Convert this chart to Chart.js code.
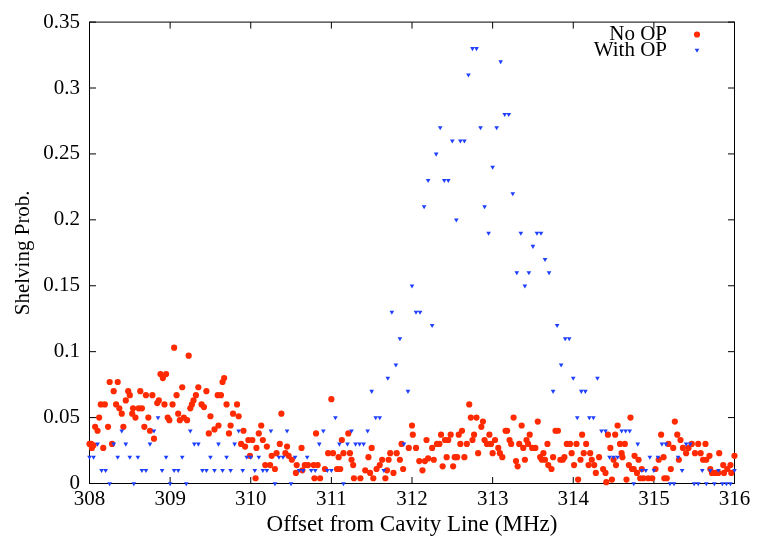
<!DOCTYPE html>
<html>
<head>
<meta charset="utf-8">
<title>Shelving probability vs offset</title>
<script src="https://cdn.jsdelivr.net/npm/chart.js@4.4.1/dist/chart.umd.min.js"></script>
<style>
  html, body { margin: 0; padding: 0; background: #fff; }
  #wrap { width: 757px; height: 539px; }
</style>
</head>
<body>
<div id="wrap"><canvas id="shelvingChart" width="757" height="539"></canvas></div>
<script>
// Shelving probability scan, with and without optical pumping

// No OP: offset (MHz) and shelving probability
const noOpFreq = [
    308.00, 308.02, 308.03, 308.05, 308.07, 308.10, 308.12, 308.14, 308.17, 308.19,
    308.23, 308.25, 308.28, 308.30, 308.33, 308.35, 308.37, 308.40, 308.42, 308.45,
    308.48, 308.50, 308.53, 308.54, 308.57, 308.61, 308.63, 308.65, 308.68, 308.70,
    308.73, 308.75, 308.78, 308.80, 308.84, 308.86, 308.88, 308.91, 308.93, 308.95,
    308.97, 308.99, 309.03, 309.05, 309.08, 309.10, 309.12, 309.15, 309.17, 309.21,
    309.23, 309.25, 309.27, 309.29, 309.32, 309.35, 309.39, 309.42, 309.45, 309.48,
    309.50, 309.55, 309.59, 309.60, 309.63, 309.65, 309.67, 309.70, 309.73, 309.75,
    309.78, 309.83, 309.85, 309.88, 309.91, 309.93, 309.97, 309.99, 310.02, 310.06,
    310.07, 310.10, 310.13, 310.15, 310.18, 310.20, 310.24, 310.26, 310.30, 310.32,
    310.36, 310.38, 310.43, 310.45, 310.47, 310.51, 310.56, 310.57, 310.63, 310.64,
    310.67, 310.71, 310.78, 310.79, 310.81, 310.83, 310.86, 310.92, 310.96, 311.00,
    311.02, 311.07, 311.09, 311.11, 311.13, 311.15, 311.21, 311.23, 311.25, 311.27,
    311.28, 311.36, 311.42, 311.46, 311.48, 311.50, 311.52, 311.56, 311.60, 311.63,
    311.67, 311.69, 311.71, 311.73, 311.77, 311.81, 311.85, 311.87, 311.89, 311.96,
    312.00, 312.01, 312.05, 312.09, 312.13, 312.16, 312.18, 312.20, 312.25, 312.27,
    312.31, 312.34, 312.36, 312.38, 312.41, 312.43, 312.45, 312.48, 312.51, 312.53,
    312.56, 312.58, 312.60, 312.62, 312.65, 312.68, 312.71, 312.73, 312.75, 312.77,
    312.80, 312.82, 312.86, 312.88, 312.90, 312.93, 312.96, 312.98, 313.00, 313.03,
    313.07, 313.09, 313.12, 313.16, 313.18, 313.21, 313.23, 313.26, 313.29, 313.31,
    313.33, 313.36, 313.38, 313.40, 313.42, 313.44, 313.46, 313.49, 313.53, 313.56,
    313.59, 313.61, 313.63, 313.65, 313.68, 313.69, 313.73, 313.75, 313.78, 313.81,
    313.84, 313.87, 313.89, 313.92, 313.96, 313.98, 314.01, 314.04, 314.06, 314.09,
    314.11, 314.13, 314.16, 314.19, 314.21, 314.23, 314.26, 314.28, 314.32, 314.37,
    314.40, 314.41, 314.43, 314.46, 314.48, 314.50, 314.52, 314.53, 314.55, 314.58,
    314.60, 314.61, 314.64, 314.66, 314.69, 314.71, 314.73, 314.75, 314.76, 314.79,
    314.81, 314.83, 314.85, 314.87, 314.93, 314.98, 315.02, 315.06, 315.09, 315.12,
    315.13, 315.16, 315.18, 315.21, 315.24, 315.26, 315.29, 315.31, 315.33, 315.36,
    315.40, 315.43, 315.47, 315.51, 315.55, 315.58, 315.61, 315.64, 315.65, 315.69,
    315.70, 315.72, 315.76, 315.80, 315.81, 315.86, 315.87, 315.91, 315.95, 315.96,
    316.00
];
const noOpProb = [
    0.030, 0.030, 0.027, 0.029, 0.043, 0.040, 0.050, 0.060, 0.027, 0.060,
    0.043, 0.077, 0.030, 0.070, 0.060, 0.077, 0.057, 0.053, 0.043, 0.063,
    0.070, 0.067, 0.053, 0.057, 0.050, 0.057, 0.070, 0.057, 0.043, 0.067,
    0.050, 0.040, 0.067, 0.034, 0.061, 0.063, 0.083, 0.080, 0.060, 0.083,
    0.050, 0.048, 0.060, 0.103, 0.067, 0.053, 0.048, 0.073, 0.050, 0.048,
    0.097, 0.057, 0.060, 0.063, 0.067, 0.073, 0.060, 0.058, 0.070, 0.038,
    0.051, 0.041, 0.067, 0.044, 0.067, 0.077, 0.080, 0.060, 0.038, 0.044,
    0.053, 0.060, 0.051, 0.030, 0.040, 0.028, 0.033, 0.021, 0.033, 0.004,
    0.027, 0.038, 0.044, 0.033, 0.014, 0.028, 0.014, 0.021, 0.011, 0.023,
    0.030, 0.053, 0.023, 0.028, 0.021, 0.018, 0.008, 0.014, 0.027, 0.010,
    0.014, 0.014, 0.014, 0.004, 0.038, 0.014, 0.004, 0.011, 0.023, 0.064,
    0.023, 0.011, 0.020, 0.011, 0.033, 0.023, 0.038, 0.023, 0.018, 0.014,
    0.004, 0.004, 0.010, 0.020, 0.008, 0.027, 0.004, 0.011, 0.014, 0.018,
    0.004, 0.010, 0.018, 0.023, 0.008, 0.023, 0.018, 0.030, 0.011, 0.027,
    0.044, 0.037, 0.027, 0.017, 0.010, 0.017, 0.033, 0.019, 0.027, 0.018,
    0.030, 0.030, 0.037, 0.013, 0.033, 0.020, 0.033, 0.037, 0.013, 0.020,
    0.020, 0.037, 0.030, 0.040, 0.020, 0.030, 0.060, 0.050, 0.033, 0.037,
    0.050, 0.023, 0.043, 0.047, 0.033, 0.030, 0.037, 0.030, 0.023, 0.033,
    0.027, 0.023, 0.020, 0.040, 0.040, 0.033, 0.030, 0.050, 0.017, 0.013,
    0.030, 0.044, 0.027, 0.018, 0.033, 0.030, 0.037, 0.027, 0.027, 0.047,
    0.020, 0.018, 0.023, 0.018, 0.030, 0.014, 0.011, 0.020, 0.040, 0.040,
    0.018, 0.018, 0.020, 0.030, 0.030, 0.023, 0.014, 0.030, 0.003, 0.018,
    0.037, 0.023, 0.030, 0.014, 0.023, 0.018, 0.014, 0.008, 0.020, 0.011,
    0.008, 0.001, 0.037, 0.027, 0.003, 0.018, 0.037, 0.014, 0.044, 0.030,
    0.023, 0.020, 0.030, 0.003, 0.014, 0.050, 0.011, 0.011, 0.021, 0.008,
    0.018, 0.004, 0.011, 0.004, 0.004, 0.004, 0.011, 0.018, 0.037, 0.020,
    0.004, 0.004, 0.030, 0.011, 0.027, 0.047, 0.037, 0.018, 0.033, 0.027,
    0.023, 0.027, 0.030, 0.023, 0.030, 0.023, 0.018, 0.030, 0.018, 0.021,
    0.011, 0.008, 0.008, 0.008, 0.023, 0.014, 0.008, 0.011, 0.014, 0.008,
    0.021
];

// With OP: 0.05 MHz scan steps
const withOpFreq = [
    308.00, 308.05, 308.10, 308.15, 308.20, 308.25, 308.30, 308.35, 308.40, 308.45,
    308.50, 308.55, 308.60, 308.65, 308.70, 308.75, 308.80, 308.85, 308.90, 308.95,
    309.00, 309.05, 309.10, 309.15, 309.20, 309.25, 309.30, 309.35, 309.40, 309.45,
    309.50, 309.55, 309.60, 309.65, 309.70, 309.75, 309.80, 309.85, 309.90, 309.95,
    310.00, 310.05, 310.10, 310.15, 310.20, 310.25, 310.30, 310.35, 310.40, 310.45,
    310.50, 310.55, 310.60, 310.65, 310.70, 310.75, 310.80, 310.85, 310.90, 310.95,
    311.00, 311.05, 311.10, 311.15, 311.20, 311.25, 311.30, 311.35, 311.40, 311.45,
    311.50, 311.55, 311.60, 311.65, 311.70, 311.75, 311.80, 311.85, 311.90, 311.95,
    312.00, 312.05, 312.10, 312.15, 312.20, 312.25, 312.30, 312.35, 312.40, 312.45,
    312.50, 312.55, 312.60, 312.65, 312.70, 312.75, 312.80, 312.85, 312.90, 312.95,
    313.00, 313.05, 313.10, 313.15, 313.20, 313.25, 313.30, 313.35, 313.40, 313.45,
    313.50, 313.55, 313.60, 313.65, 313.70, 313.75, 313.80, 313.85, 313.90, 313.95,
    314.00, 314.05, 314.10, 314.15, 314.20, 314.25, 314.30, 314.35, 314.40, 314.45,
    314.50, 314.55, 314.60, 314.65, 314.70, 314.75, 314.80, 314.85, 314.90, 314.95,
    315.00, 315.05, 315.10, 315.15, 315.20, 315.25, 315.30, 315.35, 315.40, 315.45,
    315.50, 315.55, 315.60, 315.65, 315.70, 315.75, 315.80, 315.85, 315.90, 315.95,
    316.00
];
const withOpProb = [
    0.02, 0.02, 0.03, 0.01, 0.01, 0.00, 0.03, 0.02, 0.04, 0.03,
    0.02, 0.00, 0.02, 0.01, 0.01, 0.03, 0.04, 0.05, 0.01, 0.02,
    0.00, 0.01, 0.01, 0.02, 0.00, 0.04, 0.03, 0.03, 0.01, 0.01,
    0.02, 0.01, 0.03, 0.01, 0.02, 0.01, 0.03, 0.04, 0.01, 0.02,
    0.02, 0.01, 0.02, 0.01, 0.01, 0.04, 0.00, 0.02, 0.02, 0.04,
    0.00, 0.02, 0.01, 0.01, 0.02, 0.01, 0.01, 0.03, 0.04, 0.01,
    0.01, 0.05, 0.03, 0.00, 0.03, 0.04, 0.03, 0.03, 0.03, 0.04,
    0.07, 0.05, 0.05, 0.01, 0.08, 0.13, 0.09, 0.11, 0.03, 0.07,
    0.15, 0.13, 0.13, 0.21, 0.23, 0.12, 0.25, 0.27, 0.23, 0.23,
    0.26, 0.20, 0.26, 0.26, 0.31, 0.33, 0.33, 0.27, 0.21, 0.19,
    0.24, 0.27, 0.32, 0.28, 0.28, 0.22, 0.16, 0.19, 0.15, 0.16,
    0.18, 0.19, 0.19, 0.17, 0.16, 0.07, 0.12, 0.09, 0.11, 0.11,
    0.08, 0.05, 0.07, 0.07, 0.05, 0.05, 0.08, 0.04, 0.04, 0.02,
    0.02, 0.02, 0.04, 0.04, 0.04, 0.00, 0.03, 0.01, 0.01, 0.02,
    0.01, 0.02, 0.03, 0.03, 0.00, 0.00, 0.02, 0.01, 0.03, 0.03,
    0.00, 0.00, 0.01, 0.00, 0.01, 0.00, 0.01, 0.00, 0.00, 0.00,
    0.01
];

// Axis ranges
const xMin = 308, xMax = 316, xStep = 1;
const yMin = 0, yMax = 0.35, yStep = 0.05;

const TICK_LEN = 6.5;
const FONT = '"Liberation Serif", "Times New Roman", serif';

Chart.defaults.font.family = FONT;
Chart.defaults.font.size = 21;
Chart.defaults.color = '#000';

function toPoints(xs, ys) {
    return xs.map((x, i) => ({ x: x, y: ys[i] }));
}

// Border box with inward ticks on all four sides, gnuplot style
const framePlugin = {
    id: 'frame',
    beforeDatasetsDraw(chart) {
        const { ctx, chartArea: a, scales } = chart;
        ctx.save();
        ctx.strokeStyle = '#000';
        ctx.lineWidth = 1;
        ctx.beginPath();
        scales.x.ticks.forEach(t => {
            const px = scales.x.getPixelForValue(t.value);
            ctx.moveTo(px, a.bottom); ctx.lineTo(px, a.bottom - TICK_LEN);
            ctx.moveTo(px, a.top); ctx.lineTo(px, a.top + TICK_LEN);
        });
        scales.y.ticks.forEach(t => {
            const py = scales.y.getPixelForValue(t.value);
            ctx.moveTo(a.left, py); ctx.lineTo(a.left + TICK_LEN, py);
            ctx.moveTo(a.right, py); ctx.lineTo(a.right - TICK_LEN, py);
        });
        ctx.stroke();
        ctx.strokeRect(a.left, a.top, a.right - a.left, a.bottom - a.top);
        ctx.restore();
    },
    // key in the top right corner: label then marker
    afterDraw(chart) {
        const { ctx } = chart;
        ctx.save();
        ctx.font = '21px ' + FONT;
        ctx.textAlign = 'right';
        ctx.textBaseline = 'alphabetic';
        const keys = chart.data.datasets.slice().sort((p, q) => p.keyRow - q.keyRow);
        keys.forEach((ds, i) => {
            const base = 40 + i * 15.5;
            ctx.fillStyle = '#000';
            ctx.fillText(ds.label, 667, base);
            ctx.fillStyle = ds.backgroundColor;
            Chart.helpers.drawPoint(ctx, {
                pointStyle: ds.pointStyle,
                radius: ds.pointRadius,
                rotation: ds.rotation || 0,
                borderWidth: 0
            }, 697, base - 5.5);
        });
        ctx.restore();
    }
};

const chart = new Chart(document.getElementById('shelvingChart'), {
    type: 'scatter',
    data: {
        datasets: [
            {
                label: 'With OP',
                keyRow: 1,
                order: 1,
                data: toPoints(withOpFreq, withOpProb),
                pointStyle: 'triangle',
                rotation: 180,
                pointRadius: 2.7,
                backgroundColor: '#1f3fff',
                borderColor: '#1f3fff',
                borderWidth: 0,
                clip: false
            },
            {
                label: 'No OP',
                keyRow: 0,
                order: 2,
                data: toPoints(noOpFreq, noOpProb),
                pointStyle: 'circle',
                pointRadius: 3.1,
                backgroundColor: '#ff2a00',
                borderColor: '#ff2a00',
                borderWidth: 0,
                clip: false
            }
        ]
    },
    options: {
        responsive: false,
        animation: false,
        devicePixelRatio: 1,
        layout: { padding: { top: 19.5, right: 22.5, left: 0, bottom: 0 } },
        plugins: {
            legend: { display: false },
            tooltip: { enabled: false }
        },
        scales: {
            x: {
                type: 'linear',
                min: xMin,
                max: xMax,
                grid: { display: false, drawTicks: false },
                border: { display: false },
                ticks: { stepSize: xStep, padding: 3, autoSkip: false, maxRotation: 0 },
                title: {
                    display: true,
                    text: 'Offset from Cavity Line (MHz)',
                    font: { size: 23 },
                    padding: { top: 0, bottom: 0 }
                },
                afterFit(scale) { scale.height = 55.5; }
            },
            y: {
                type: 'linear',
                min: yMin,
                max: yMax,
                grid: { display: false, drawTicks: false },
                border: { display: false },
                ticks: {
                    stepSize: yStep,
                    padding: 9.5,
                    callback: v => String(+v.toFixed(2))
                },
                title: {
                    display: true,
                    text: 'Shelving Prob.',
                    padding: { top: 11, bottom: 0 }
                },
                afterFit(scale) { scale.width = 89.5; }
            }
        }
    },
    plugins: [framePlugin]
});
</script>
</body>
</html>
